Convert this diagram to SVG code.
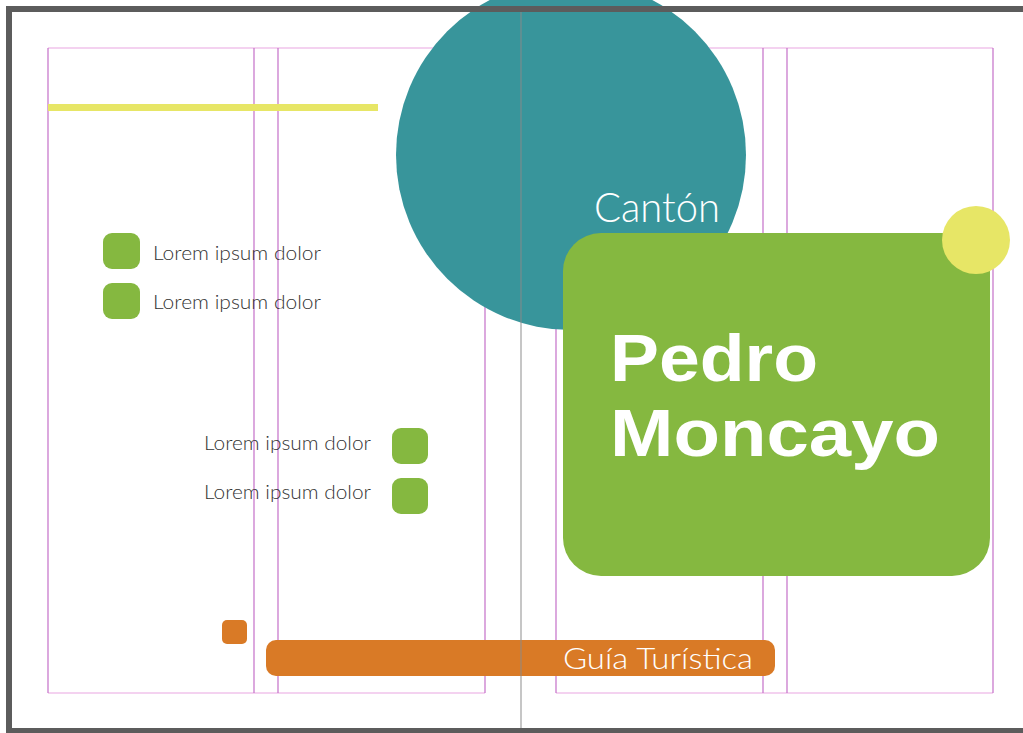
<svg xmlns="http://www.w3.org/2000/svg" width="1023" height="733" viewBox="0 0 1023 733">
<style>
.guide{fill:none;stroke:#c46fc8;stroke-width:1.2}
.gtop{stroke:#e9a6e2}
.green{fill:#85b840}
.lorem{font-family:Lato,"Liberation Sans",sans-serif;font-weight:300;font-size:19px;fill:#333333}
.thin{font-family:Lato,"Liberation Sans",sans-serif;font-weight:300;fill:#ffffff}
.title{font-family:"Liberation Sans",Arial,sans-serif;font-weight:700;font-size:67px;fill:#ffffff}
</style>
<rect x="0" y="0" width="1023" height="733" fill="#ffffff"/>
<g id="guides">
<line class="guide gtop" x1="48" y1="48" x2="485" y2="48"/>
<line class="guide gtop" x1="48" y1="693" x2="485" y2="693"/>
<line class="guide" x1="48" y1="48" x2="48" y2="693"/>
<line class="guide" x1="254" y1="48" x2="254" y2="693"/>
<line class="guide" x1="278" y1="48" x2="278" y2="693"/>
<line class="guide" x1="485" y1="48" x2="485" y2="693"/>
<line class="guide gtop" x1="556" y1="48" x2="993" y2="48"/>
<line class="guide gtop" x1="556" y1="693" x2="993" y2="693"/>
<line class="guide" x1="556" y1="48" x2="556" y2="693"/>
<line class="guide" x1="763" y1="48" x2="763" y2="693"/>
<line class="guide" x1="787" y1="48" x2="787" y2="693"/>
<line class="guide" x1="993" y1="48" x2="993" y2="693"/>
</g>
<g id="yellow-bar"><rect x="48" y="104" width="330" height="7" fill="#e7e666"/></g>
<g id="teal-circle"><circle cx="571" cy="155" r="175" fill="#38959b"/></g>
<g id="canton"><text class="thin" x="594" y="222" font-size="41" textLength="126" lengthAdjust="spacingAndGlyphs">Cantón</text></g>
<g id="title-box">
<rect x="563" y="233" width="427" height="343" rx="38" class="green"/>
<text class="title" x="610" y="381" textLength="208" lengthAdjust="spacingAndGlyphs">Pedro</text>
<text class="title" x="610" y="456" textLength="330" lengthAdjust="spacingAndGlyphs">Moncayo</text>
</g>
<g id="yellow-circle"><circle cx="976" cy="240" r="34" fill="#e7e666"/></g>
<g id="list-left">
<rect x="103" y="233" width="37" height="36" rx="9" class="green"/>
<text class="lorem" x="153" y="260" textLength="168" lengthAdjust="spacingAndGlyphs">Lorem ipsum dolor</text>
<rect x="103" y="283" width="37" height="36" rx="9" class="green"/>
<text class="lorem" x="153" y="309" textLength="168" lengthAdjust="spacingAndGlyphs">Lorem ipsum dolor</text>
</g>
<g id="list-right">
<text class="lorem" x="204" y="450" textLength="167" lengthAdjust="spacingAndGlyphs">Lorem ipsum dolor</text>
<rect x="392" y="428" width="36" height="36" rx="9" class="green"/>
<text class="lorem" x="204" y="499" textLength="167" lengthAdjust="spacingAndGlyphs">Lorem ipsum dolor</text>
<rect x="392" y="478" width="36" height="36" rx="9" class="green"/>
</g>
<g id="orange-square"><rect x="222" y="620" width="25" height="24" rx="5" fill="#d97a26"/></g>
<g id="guia-bar">
<rect x="266" y="640" width="509" height="36" rx="10" fill="#d97a26"/>
<text class="thin" x="563" y="669" font-size="29" textLength="190" lengthAdjust="spacingAndGlyphs">Guía Turística</text>
</g>
<g id="fold"><line x1="521" y1="12" x2="521" y2="729" stroke="#8a8a8a" stroke-width="1.2" opacity="0.8"/></g>
<g id="frame" fill="#5c5c5c">
<rect x="6" y="6" width="1017" height="6"/>
<rect x="6" y="6" width="6" height="727"/>
<rect x="6" y="728" width="1017" height="5"/>
</g>
</svg>
